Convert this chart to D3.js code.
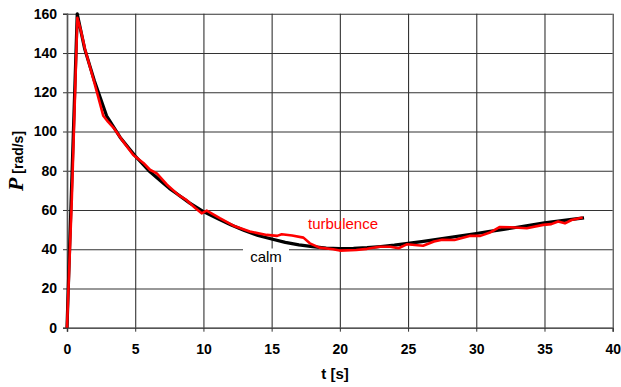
<!DOCTYPE html>
<html>
<head>
<meta charset="utf-8">
<script src="https://cdn.jsdelivr.net/npm/d3@7/dist/d3.min.js"></script>
<style>
  html, body { margin: 0; padding: 0; background: #fff; }
  svg { display: block; }
  text { font-family: "Liberation Sans", Arial, sans-serif; }
</style>
</head>
<body>
<svg id="chart" width="621" height="387"></svg>
<script>
// ---- data ----
const xTicks = [0, 5, 10, 15, 20, 25, 30, 35, 40];
const yTicks = [0, 20, 40, 60, 80, 100, 120, 140, 160];

const calmT = [0, 0.75, 1.3, 2, 2.9, 3.9, 5, 6, 7, 7.5, 8, 9, 10, 11, 12, 13, 14, 15, 16, 17, 18, 19, 20, 21, 22, 23, 24, 25, 26, 27, 28, 29, 30, 31, 32, 33, 34, 35, 36, 37, 37.9];
const calmP = [0, 160, 142, 126, 108, 97, 87.5, 80, 74, 71, 68.5, 63.5, 59.2, 55.8, 52.5, 49.5, 47, 45.2, 43.5, 42.2, 41.3, 40.6, 40.3, 40.4, 40.8, 41.4, 42.1, 43, 43.9, 44.9, 45.9, 47, 48, 49.1, 50.1, 51.2, 52.3, 53.4, 54.3, 55.2, 56];

const turbT = [0, 0.35, 0.76, 1.0, 1.32, 2.0, 2.66, 3.0, 3.4, 4.0, 4.86, 5.6, 6.08, 6.58, 7.31, 8.16, 8.77, 9.4, 9.87, 10.24, 11.2, 12.2, 13.4, 14.64, 15.4, 15.74, 16.5, 17.33, 17.8, 18.5, 19.5, 20.0, 21.2, 22.0, 22.9, 23.7, 24.3, 24.9, 26.1, 26.9, 27.5, 28.4, 29.5, 30.3, 31.0, 31.7, 32.5, 33.7, 34.9, 35.5, 36.0, 36.5, 36.98, 37.8];
const turbP = [0, 65, 158, 152, 142, 125, 108, 105, 102, 96, 88, 84, 80.5, 78.7, 73, 67.7, 65, 61, 58.3, 59.7, 55.8, 52, 49, 47.3, 46.8, 47.6, 47, 45.9, 43, 40.8, 40, 39.3, 39.6, 40.2, 41.3, 41.3, 40.5, 42.5, 41.8, 43.9, 44.8, 44.7, 46.8, 46.8, 48.5, 51.3, 51.2, 50.7, 52.4, 52.8, 54.1, 53.2, 54.9, 56.2];

const xLabel = "t [s]";
const yLabelSym = "P";
const yLabelUnit = " [rad/s]";
const calmLabel = "calm";
const turbLabel = "turbulence";

// ---- layout ----
const svg = d3.select("#chart");
const x = d3.scaleLinear().domain([0, 40]).range([67, 612.7]);
const y = d3.scaleLinear().domain([0, 160]).range([327.7, 13.8]);
const X0 = x.range()[0], X1 = x.range()[1], Y0 = y.range()[0], Y1 = y.range()[1];

// gridlines
const gy = svg.append("g").attr("transform", `translate(${X0},0)`)
  .call(d3.axisLeft(y).tickValues(yTicks).tickSize(-(X1 - X0)).tickFormat(""));
gy.select(".domain").remove();
gy.selectAll("line").attr("stroke", "#333").attr("stroke-width", 1.1);

const gx = svg.append("g").attr("transform", `translate(0,${Y1})`)
  .call(d3.axisBottom(x).tickValues(xTicks).tickSize(Y0 - Y1).tickFormat(""));
gx.select(".domain").remove();
gx.selectAll("line").attr("stroke", "#333").attr("stroke-width", 1.1);

// axes with labels
const ay = svg.append("g").attr("transform", `translate(${X0},0)`)
  .call(d3.axisLeft(y).tickValues(yTicks).tickSize(4).tickPadding(6));
ay.select(".domain").attr("stroke", "#555").attr("stroke-width", 1.6);
ay.selectAll("line").attr("stroke", "#333");
ay.selectAll("text").attr("font-size", 14).attr("font-weight", "bold")
  .attr("font-family", "'Liberation Sans', Arial, sans-serif").attr("fill", "#000");

const ax = svg.append("g").attr("transform", `translate(0,${Y0})`)
  .call(d3.axisBottom(x).tickValues(xTicks).tickSize(4).tickPadding(12));
ax.select(".domain").attr("stroke", "#555").attr("stroke-width", 1.6);
ax.selectAll("line").attr("stroke", "#333");
ax.selectAll("text").attr("font-size", 14).attr("font-weight", "bold")
  .attr("font-family", "'Liberation Sans', Arial, sans-serif").attr("fill", "#000");

// axis titles
svg.append("text").attr("x", 335).attr("y", 379).attr("text-anchor", "middle")
  .attr("font-size", 15).attr("font-weight", "bold").text(xLabel);

const yt = svg.append("text").attr("transform", "translate(23,161) rotate(-90)")
  .attr("text-anchor", "middle");
yt.append("tspan").attr("font-family", "'Liberation Serif', 'Times New Roman', serif")
  .attr("font-style", "italic").attr("font-weight", "bold").attr("font-size", 22).text(yLabelSym);
yt.append("tspan").attr("font-weight", "bold").attr("font-size", 14).text(yLabelUnit);

// calm label with white box
svg.append("rect").attr("x", 243).attr("y", 248.5).attr("width", 46).attr("height", 18.5).attr("fill", "#fff");
svg.append("text").attr("x", 266).attr("y", 261.5).attr("text-anchor", "middle")
  .attr("font-size", 15).attr("fill", "#000").text(calmLabel);
svg.append("text").attr("x", 343).attr("y", 229).attr("text-anchor", "middle")
  .attr("font-size", 15).attr("fill", "#ff0000").text(turbLabel);

// lines
const line = d3.line().x(d => x(d[0])).y(d => y(d[1]));
svg.append("path").datum(calmT.map((t, i) => [t, calmP[i]]))
  .attr("d", line).attr("fill", "none").attr("stroke", "#000").attr("stroke-width", 3.2)
  .attr("stroke-linejoin", "round");
svg.append("path").datum(turbT.map((t, i) => [t, turbP[i]]))
  .attr("d", line).attr("fill", "none").attr("stroke", "#ff0000").attr("stroke-width", 2.6)
  .attr("stroke-linejoin", "round");
</script>
</body>
</html>
